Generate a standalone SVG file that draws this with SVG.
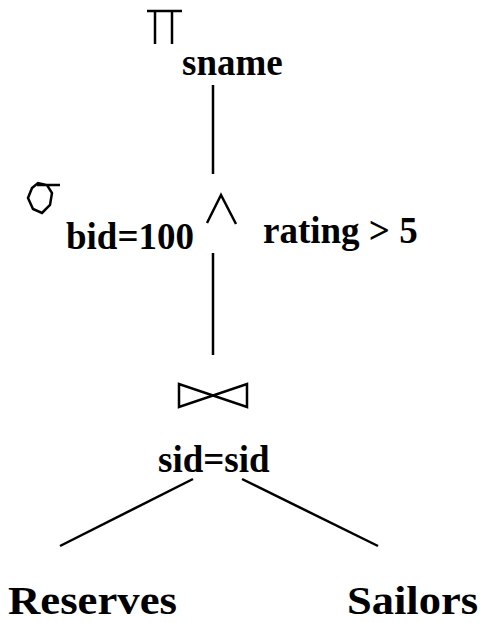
<svg xmlns="http://www.w3.org/2000/svg" width="493" height="623" viewBox="0 0 493 623">
<style>
.t{font-family:"Liberation Serif","Times New Roman",serif;font-weight:bold;font-size:37px;fill:#000}
.big{font-size:41px}
.s{fill:none;stroke:#000;stroke-width:2.5;stroke-linejoin:miter}
</style>
<rect width="493" height="623" fill="#fff"/>
<g id="project">
<path class="s" d="M147,11 H182 M155,11 V44 M172,11 V44"/>
<text class="t" x="182" y="75">sname</text>
</g>
<g id="select">
<path class="s" d="M28,198 L32,188 L38,183 L47,185 L52,193 L50,205 L42,213 L33,209 Z M37,185 H60"/>
<text class="t" x="66" y="249">bid=100</text>
<polyline class="s" points="207,223 221,195 236,224"/>
<text class="t" x="263" y="243">rating &gt; 5</text>
</g>
<g id="join">
<path class="s" d="M179,384 L179,407 L247,384 L247,407 Z"/>
<text class="t" x="158" y="472">sid=sid</text>
</g>
<g id="reserves">
<text class="t big" x="8" y="614" textLength="169" lengthAdjust="spacingAndGlyphs">Reserves</text>
</g>
<g id="sailors">
<text class="t big" x="347" y="614" textLength="131" lengthAdjust="spacingAndGlyphs">Sailors</text>
</g>
<g id="connectors">
<line class="s" x1="213" y1="85" x2="213" y2="174"/>
<line class="s" x1="213" y1="253" x2="213" y2="355"/>
<line class="s" x1="193" y1="479" x2="60" y2="546"/>
<line class="s" x1="242" y1="479" x2="378" y2="546"/>
</g>
</svg>
